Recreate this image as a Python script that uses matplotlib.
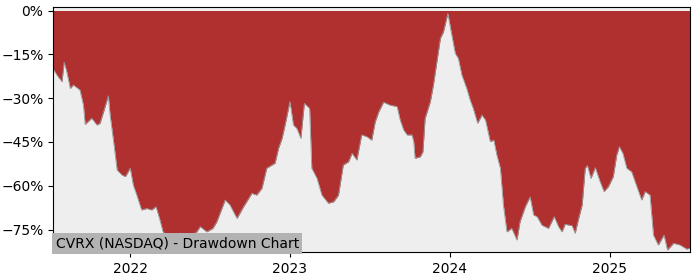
import numpy as np
import pandas as pd
import matplotlib
matplotlib.use("Agg")
import matplotlib.pyplot as plt
import matplotlib.dates as mdates
from matplotlib.ticker import MultipleLocator, PercentFormatter

# drawdown values (%)
dates = ["2021-07-09", "2021-07-17", "2021-07-29", "2021-08-03", "2021-08-09", "2021-08-17",
         "2021-08-24", "2021-09-08", "2021-09-16", "2021-09-20", "2021-09-27", "2021-10-05",
         "2021-10-17", "2021-10-24", "2021-11-01", "2021-11-12", "2021-11-16", "2021-11-24",
         "2021-12-02", "2021-12-13", "2021-12-21", "2022-01-01", "2022-01-08", "2022-01-16",
         "2022-01-27", "2022-02-08", "2022-02-19", "2022-03-01", "2022-03-10", "2022-03-17",
         "2022-03-25", "2022-04-10", "2022-04-20", "2022-05-02", "2022-05-18", "2022-06-02",
         "2022-06-10", "2022-06-25", "2022-07-09", "2022-07-18", "2022-08-06", "2022-08-17",
         "2022-09-02", "2022-09-17", "2022-10-06", "2022-10-17", "2022-10-29", "2022-11-09",
         "2022-11-21", "2022-11-28", "2022-12-06", "2022-12-14", "2022-12-21", "2023-01-01",
         "2023-01-09", "2023-01-17", "2023-01-26", "2023-02-03", "2023-02-15", "2023-02-20",
         "2023-03-04", "2023-03-15", "2023-03-30", "2023-04-11", "2023-04-22", "2023-05-03",
         "2023-05-15", "2023-05-23", "2023-06-03", "2023-06-14", "2023-06-26", "2023-07-07",
         "2023-07-15", "2023-07-23", "2023-08-03", "2023-08-18", "2023-09-03", "2023-09-10",
         "2023-09-18", "2023-09-26", "2023-10-07", "2023-10-11", "2023-10-14", "2023-10-26",
         "2023-11-01", "2023-11-06", "2023-11-18", "2023-11-25", "2023-12-03", "2023-12-11",
         "2023-12-18", "2023-12-28", "2024-01-06", "2024-01-14", "2024-01-21", "2024-01-29",
         "2024-02-09", "2024-02-17", "2024-02-24", "2024-03-05", "2024-03-15", "2024-03-23",
         "2024-04-03", "2024-04-11", "2024-04-18", "2024-04-26", "2024-05-03", "2024-05-11",
         "2024-05-22", "2024-06-03", "2024-06-10", "2024-06-22", "2024-07-03", "2024-07-11",
         "2024-07-19", "2024-07-30", "2024-08-14", "2024-08-27", "2024-09-06", "2024-09-14",
         "2024-09-21", "2024-10-07", "2024-10-14", "2024-10-22", "2024-10-30", "2024-11-06",
         "2024-11-11", "2024-11-19", "2024-11-29", "2024-12-10", "2024-12-19", "2024-12-29",
         "2025-01-09", "2025-01-17", "2025-01-23", "2025-01-31", "2025-02-09", "2025-02-20",
         "2025-03-04", "2025-03-15", "2025-03-23", "2025-04-03", "2025-04-11", "2025-04-22",
         "2025-05-05", "2025-05-13", "2025-05-27", "2025-06-11", "2025-06-26", "2025-07-03"]
drawdown = [-20.0, -22.0, -24.4, -17.7, -21.0, -26.7,
            -25.5, -27.2, -32.4, -39.0, -38.0, -36.9,
            -39.2, -38.6, -34.7, -29.2, -35.8, -44.9,
            -54.6, -56.3, -56.9, -54.0, -59.8, -63.2,
            -68.3, -67.8, -68.3, -67.2, -71.8, -75.8,
            -76.9, -78.0, -80.3, -76.9, -77.5, -75.8,
            -74.0, -75.8, -74.6, -72.3, -64.9, -66.6,
            -71.2, -67.2, -62.6, -63.2, -60.9, -54.0,
            -52.9, -52.3, -47.2, -43.8, -39.2, -31.2,
            -39.2, -40.4, -43.8, -31.8, -33.5, -54.0,
            -57.5, -63.2, -66.0, -65.5, -63.2, -52.9,
            -51.8, -48.9, -51.2, -42.6, -43.2, -44.4,
            -38.1, -34.7, -31.4, -32.4, -32.9, -37.5,
            -40.9, -42.6, -42.6, -44.9, -50.6, -50.1,
            -48.4, -36.9, -31.2, -25.5, -17.5, -9.5,
            -7.3, -1.0, -8.4, -14.7, -16.4, -22.1,
            -26.6, -30.7, -33.5, -38.6, -35.8, -37.5,
            -44.9, -44.4, -49.5, -54.0, -66.6, -75.8,
            -74.6, -78.6, -72.3, -67.2, -63.8, -70.0,
            -70.6, -73.5, -74.6, -70.6, -74.0, -75.8,
            -73.2, -73.7, -76.3, -71.2, -66.6, -54.0,
            -53.1, -57.5, -53.8, -58.6, -62.0, -60.3,
            -56.9, -49.5, -46.6, -48.9, -54.0, -55.2,
            -60.3, -64.9, -62.0, -63.2, -76.9, -80.3,
            -76.9, -82.0, -79.7, -80.3, -81.7, -81.4]
label = "CVRX (NASDAQ) - Drawdown Chart"

x = pd.to_datetime(dates)
dd = np.array(drawdown)

fig = plt.figure(figsize=(7, 2.8), dpi=100)
ax = fig.add_axes([0.076, 0.1, 0.91, 0.875])
ax.set_facecolor("#eeeeee")

ax.fill_between(x, dd, 0, color="#b03030", linewidth=0)
ax.plot(x, dd, color="#999999", linewidth=0.6)

ax.set_xlim(x[0], pd.Timestamp("2025-07-04"))
ax.set_ylim(-82.7, 1.2)
ax.xaxis.set_major_locator(mdates.YearLocator())
ax.xaxis.set_major_formatter(mdates.DateFormatter("%Y"))
ax.yaxis.set_major_locator(MultipleLocator(15))
ax.yaxis.set_major_formatter(PercentFormatter(decimals=0))
ax.tick_params(labelsize=10)

ax.text(0.004, 0.008, label, transform=ax.transAxes, fontsize=10, va="bottom", ha="left",
        bbox=dict(facecolor="#b3b3b3", edgecolor="none", pad=2.5))

fig.savefig("out.png")
